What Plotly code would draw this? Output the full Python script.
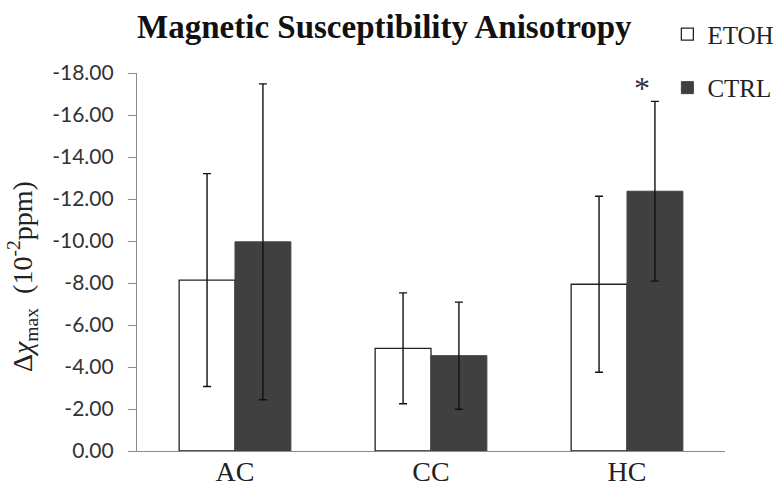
import plotly.graph_objects as go

categories = ["AC", "CC", "HC"]
etoh_values = [-8.14, -4.89, -7.94]
etoh_errors = [5.07, 2.64, 4.19]
ctrl_values = [-9.96, -4.54, -12.37]
ctrl_errors = [7.52, 2.55, 4.28]
ytick_values = [0, -2, -4, -6, -8, -10, -12, -14, -16, -18]
ytick_labels = ["0.00", "-2.00", "-4.00", "-6.00", "-8.00", "-10.00",
                "-12.00", "-14.00", "-16.00", "-18.00"]

SERIF = "Liberation Serif, Times New Roman, serif"
PL, PT, PW, PH = 137, 73, 588, 378  # plot area in pixels

fig = go.Figure()
fig.add_trace(go.Bar(
    name="ETOH", x=categories, y=etoh_values, legendgroup="a",
    marker=dict(color="white", line=dict(color="#222222", width=1.3)),
    error_y=dict(type="data", array=etoh_errors, color="#111111", thickness=1.4, width=4),
))
fig.add_trace(go.Bar(
    name="CTRL", x=categories, y=ctrl_values, legendgroup="b",
    marker=dict(color="#404040", line=dict(color="#404040", width=1)),
    error_y=dict(type="data", array=ctrl_errors, color="#111111", thickness=1.4, width=4),
))

fig.add_annotation(
    x="HC", y=ctrl_values[2] - ctrl_errors[2], xref="x", yref="y",
    text="*", showarrow=False, xshift=15, yshift=13, yanchor="middle",
    font=dict(family=SERIF, size=32, color="#333333"),
)

fig.add_annotation(
    x=(22 - PL) / PW, y=(PT + PH - 277) / PH, xref="paper", yref="paper",
    text="Δ<i>χ</i><sub>max</sub>  (10<sup>-2</sup>ppm)",
    textangle=-90, showarrow=False, xanchor="center", yanchor="middle",
    font=dict(family=SERIF, size=28, color="#222222"),
)

fig.update_layout(
    width=778, height=489,
    margin=dict(l=PL, r=778 - PL - PW, t=PT, b=489 - PT - PH, autoexpand=False),
    paper_bgcolor="white", plot_bgcolor="white",
    barmode="group", bargap=0.43, bargroupgap=0,
    title=dict(text="<b>Magnetic Susceptibility Anisotropy</b>",
               x=0.494, xanchor="center", y=1 - 26 / 489, yanchor="middle",
               yref="container", xref="container",
               font=dict(family=SERIF, size=33, color="#111111")),
    legend=dict(x=0.902, xanchor="left", y=1.163, yanchor="top",
                font=dict(family=SERIF, size=25, color="#222222"),
                tracegroupgap=18, bgcolor="rgba(0,0,0,0)"),
    xaxis=dict(showline=True, linecolor="#8c8c8c", linewidth=1.3,
               ticks="", showgrid=False, automargin=False, ticklabelstandoff=-5,
               tickfont=dict(family=SERIF, size=28, color="#222222")),
    yaxis=dict(range=[0, -18], showline=True, linecolor="#8c8c8c", linewidth=1.3,
               ticks="outside", ticklen=8, tickcolor="#8c8c8c", tickwidth=1.3,
               tickvals=ytick_values, ticktext=ytick_labels, showgrid=False,
               zeroline=False, ticklabelstandoff=10, automargin=False,
               tickfont=dict(family="Lato, sans-serif", size=21, color="#333333")),
)

fig.write_html("out.html", config={"displayModeBar": False},
               post_script="document.body.style.margin='0';")
